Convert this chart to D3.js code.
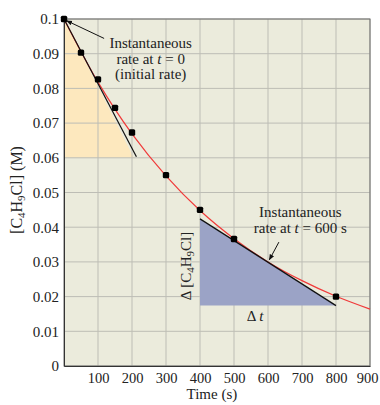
<!DOCTYPE html>
<html>
<head>
<meta charset="utf-8">
<script src="https://cdn.jsdelivr.net/npm/d3@7"></script>
<style>
  body { margin: 0; background: #fff; }
  text { font-family: "Liberation Serif", "DejaVu Serif", serif; }
</style>
</head>
<body>
<svg id="chart"></svg>
<script>
// measured points
let times = [0, 50, 100, 150, 200, 300, 400, 500, 800];
let concs = [0.1, 0.0903, 0.0826, 0.0744, 0.0673, 0.0550, 0.0450, 0.0366, 0.0200];

// red fitted curve, read every 100 s
let curveTimes = [0, 100, 200, 300, 400, 500, 600, 700, 800, 900];
let curveConcs = [0.1, 0.0818, 0.0669, 0.0548, 0.0448, 0.0367, 0.0300, 0.0246, 0.0201, 0.0164];

// tangent lines
let tangent0 = [[0, 0.1], [213, 0.0603]];
let tangent600 = [[400, 0.0424], [800, 0.0174]];

let xTicks = [100, 200, 300, 400, 500, 600, 700, 800, 900];
let yTicks = [0, 0.01, 0.02, 0.03, 0.04, 0.05, 0.06, 0.07, 0.08, 0.09, 0.1];

let svg = d3.select("#chart");
svg.attr("width", 380);
svg.attr("height", 405);

let margin = {top: 19, right: 10, bottom: 39, left: 64},
    width = +svg.attr("width") - margin.left - margin.right,
    height = +svg.attr("height") - margin.top - margin.bottom,
    g = svg.append("g").attr("transform", "translate(" + margin.left + "," + margin.top + ")");

let x = d3.scaleLinear().domain([0, 900]).range([0, width]);
let y = d3.scaleLinear().domain([0, 0.1]).range([height, 0]);

g.append("rect")
    .attr("width", width)
    .attr("height", height)
    .attr("fill", "#ebebdc");

// yellow triangle under initial tangent
g.append("path")
    .attr("d", d3.line()([
        [x(tangent0[0][0]), y(tangent0[0][1])],
        [x(tangent0[1][0]) - x(8), y(0.06)],
        [x(0), y(0.06)]
    ]))
    .attr("fill", "#fde8be");

// grid
g.append("g")
    .selectAll("line")
    .data(xTicks)
    .join("line")
    .attr("x1", d => x(d)).attr("x2", d => x(d))
    .attr("y1", 0).attr("y2", height)
    .attr("stroke", "#bdbdb5");
g.append("g")
    .selectAll("line")
    .data(yTicks)
    .join("line")
    .attr("x1", 0).attr("x2", width)
    .attr("y1", d => y(d)).attr("y2", d => y(d))
    .attr("stroke", "#bdbdb5");

// blue triangle
g.append("path")
    .attr("d", d3.line()([
        [x(tangent600[0][0]), y(tangent600[0][1])],
        [x(tangent600[1][0]), y(tangent600[1][1])],
        [x(tangent600[0][0]), y(tangent600[1][1])]
    ]))
    .attr("fill", "#9ba3c6");

// frame
g.append("rect")
    .attr("width", width)
    .attr("height", height)
    .attr("fill", "none")
    .attr("stroke", "#6b6b6b");

// axes (labels only)
let xAxis = g.append("g")
    .attr("transform", "translate(0," + height + ")")
    .call(d3.axisBottom(x).tickValues(xTicks).tickSize(0).tickPadding(7));
xAxis.select(".domain").attr("stroke", "#333");
xAxis.selectAll("text").attr("font-size", 14.5).attr("fill", "#222")
    .style("font-family", "Liberation Serif")
    .attr("dx", d => d === 900 ? -3 : 0);

let yAxis = g.append("g")
    .call(d3.axisLeft(y).tickValues(yTicks).tickSize(0).tickPadding(5)
        .tickFormat(d => d === 0 ? "0" : d3.format(".2~f")(d)));
yAxis.select(".domain").attr("stroke", "#333");
yAxis.selectAll("text").attr("font-size", 15).attr("fill", "#222")
    .style("font-family", "Liberation Serif");

// fitted curve
g.append("path")
    .datum(curveTimes.map((t, i) => [t, curveConcs[i]]))
    .attr("fill", "none")
    .attr("stroke", "#f03a3a")
    .attr("stroke-width", 1.2)
    .attr("d", d3.line().x(d => x(d[0])).y(d => y(d[1])).curve(d3.curveCatmullRom));

// tangents
let tline = d3.line().x(d => x(d[0])).y(d => y(d[1]));
g.append("path").datum(tangent0)
    .attr("fill", "none").attr("stroke", "#111").attr("stroke-width", 1.2)
    .attr("d", tline);
g.append("path").datum(tangent600)
    .attr("fill", "none").attr("stroke", "#111").attr("stroke-width", 1.2)
    .attr("d", tline);

// points
g.append("g")
    .selectAll("rect")
    .data(times)
    .join("rect")
    .attr("x", d => x(d) - 3.2)
    .attr("y", (d, i) => y(concs[i]) - 3.2)
    .attr("width", 6.4)
    .attr("height", 6.4)
    .attr("rx", 1.5)
    .attr("fill", "#000");

// arrows
svg.append("defs").append("marker")
    .attr("id", "arr")
    .attr("viewBox", "0 0 10 10")
    .attr("refX", 9).attr("refY", 5)
    .attr("markerWidth", 6).attr("markerHeight", 6)
    .attr("orient", "auto")
    .append("path").attr("d", "M0,1 L10,5 L0,9 Z").attr("fill", "#111");

g.append("line")
    .attr("x1", x(118)).attr("y1", y(0.0944))
    .attr("x2", x(8)).attr("y2", y(0.0995))
    .attr("stroke", "#111").attr("marker-end", "url(#arr)");
g.append("line")
    .attr("x1", x(632)).attr("y1", y(0.0357))
    .attr("x2", x(604)).attr("y2", y(0.0306))
    .attr("stroke", "#111").attr("marker-end", "url(#arr)");

// annotation texts
function label(px, py, parts, anchor) {
    let t = g.append("text")
        .attr("x", px).attr("y", py)
        .attr("text-anchor", anchor || "middle")
        .attr("font-size", 15)
        .attr("fill", "#222");
    parts.forEach(p => {
        let s = t.append("tspan").text(p.t);
        if (p.i) s.attr("font-style", "italic");
        if (p.sub) s.attr("baseline-shift", "-25%").attr("font-size", 11);
    });
    return t;
}

label(x(255), y(0.0915), [{t: "Instantaneous"}]);
label(x(255), y(0.0871), [{t: "rate at "}, {t: "t", i: 1}, {t: " = 0"}]);
label(x(255), y(0.0828), [{t: "(initial rate)"}]);

label(x(695), y(0.0430), [{t: "Instantaneous"}]);
label(x(695), y(0.0384), [{t: "rate at "}, {t: "t", i: 1}, {t: " = 600 s"}]);

label(x(562), y(0.0131), [{t: "\u0394 "}, {t: "t", i: 1}]);

label(x(435), height + 33, [{t: "Time (s)"}]);

label(0, 0, [{t: "\u0394 [C"}, {t: "4", sub: 1}, {t: "H"}, {t: "9", sub: 1}, {t: "Cl]"}])
    .attr("transform", "translate(" + (x(400) - 9) + "," + y(0.0288) + ") rotate(-90)");

svg.append("text")
    .attr("transform", "translate(22,190) rotate(-90)")
    .attr("text-anchor", "middle")
    .attr("font-size", 16)
    .attr("fill", "#222")
    .call(t => {
        t.append("tspan").text("[C");
        t.append("tspan").text("4").attr("baseline-shift", "-25%").attr("font-size", 11);
        t.append("tspan").text("H");
        t.append("tspan").text("9").attr("baseline-shift", "-25%").attr("font-size", 11);
        t.append("tspan").text("Cl] (M)");
    });
</script>
</body>
</html>
